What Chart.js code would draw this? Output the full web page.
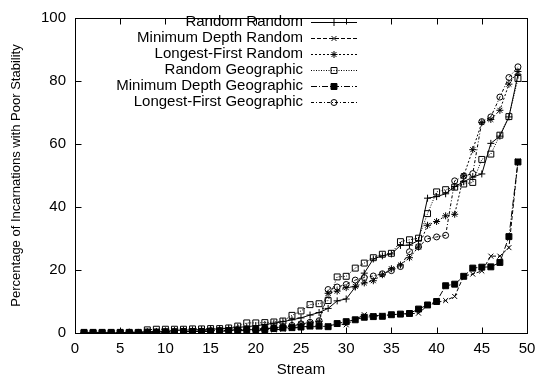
<!DOCTYPE html>
<html>
<head>
<meta charset="utf-8">
<script src="https://cdn.jsdelivr.net/npm/chart.js@4.4.1/dist/chart.umd.min.js"></script>
<style>
  html, body { margin: 0; padding: 0; background: #fff; }
</style>
</head>
<body>
<canvas id="myChart" width="544" height="381"></canvas>
<script>
// stream index on the x axis
var streams = [1,2,3,4,5,6,7,8,9,10,11,12,13,14,15,16,17,18,19,20,21,22,23,24,25,
  26,27,28,29,30,31,32,33,34,35,36,37,38,39,40,41,42,43,44,45,46,47,48,49];

var randomRandom = [0,0,0,0,0,0.3,0.2,0.4,0.5,0.6,0.8,0.9,1.0,1.1,1.2,1.3,1.5,1.8,2.0,2.3,
  2.7,3.1,3.6,4.2,4.8,5.7,6.5,7.8,10.2,10.8,14.6,19.0,23.5,24.5,25.1,27.8,27.9,29.4,
  42.8,43.3,44.2,46.5,48.0,49.5,50.5,60.2,62.5,68.6,82.0];
var minDepthRandom = [0,0,0,0,0,0,0,0.2,0.2,0.3,0.3,0.4,0.4,0.5,0.5,0.6,0.6,0.7,0.8,0.8,
  0.9,1.0,1.2,1.5,1.8,2.0,2.0,2.2,2.9,2.6,4.3,5.8,5.5,5.6,5.8,6.0,6.1,6.3,
  8.7,9.7,10.3,11.6,18.1,18.7,19.7,24.4,24.4,27.1,54.6];
var longestFirstRandom = [0,0,0,0,0,0,0,0.2,0.3,0.3,0.4,0.5,0.5,0.6,0.7,0.8,0.9,1.0,1.1,1.2,
  1.3,1.5,1.8,2.2,2.8,3.2,3.6,12.6,13.3,14.4,14.8,15.9,16.6,18.5,20.4,21.6,23.9,27.3,
  34.2,35.4,37.2,37.7,49.9,58.2,66.8,67.8,70.7,79.0,83.0];
var randomGeographic = [0,0,0,0,0,0,0,1.0,1.2,1.2,1.2,1.2,1.3,1.3,1.4,1.4,1.6,2.2,3.2,3.2,
  3.3,3.5,3.8,5.6,7.0,9.0,9.3,10.3,17.8,18.0,20.6,22.2,23.9,25.0,25.3,29.0,29.6,30.1,
  37.9,44.8,45.5,46.3,47.3,47.8,55.1,56.8,62.8,68.7,80.8];
var minDepthGeographic = [0.2,0.2,0.2,0.2,0.2,0.2,0.2,0.3,0.3,0.4,0.4,0.5,0.5,0.5,0.6,0.7,0.8,0.9,1.0,1.1,
  1.1,1.4,1.6,1.7,1.9,2.2,2.2,2.0,3.0,3.6,4.2,5.0,5.2,5.3,5.8,6.0,6.2,7.6,
  8.9,10.0,15.0,15.5,18.0,20.6,20.9,21.0,22.4,30.6,54.3];
var longestFirstGeographic = [0,0,0,0,0,0,0,0.2,0.3,0.3,0.4,0.5,0.5,0.6,0.7,0.8,0.9,1.0,1.2,1.3,
  1.4,1.6,2.0,2.4,2.9,3.4,3.9,13.8,14.6,15.4,16.8,17.6,18.1,18.8,19.8,21.1,25.8,27.4,
  29.9,30.5,31.0,48.3,49.8,50.6,67.1,68.6,74.9,81.1,84.5];

var xTicks = [0,5,10,15,20,25,30,35,40,45,50];
var yTicks = [0,20,40,60,80,100];

var FONT = '"Liberation Sans", Arial, Helvetica, sans-serif';
Chart.defaults.font.family = FONT;
Chart.defaults.font.size = 15;
Chart.defaults.color = '#000';

function pts(vals) {
  return streams.map(function (s, i) { return { x: s, y: vals[i] }; });
}

function series(label, vals, dash, style, radius, fill) {
  return {
    label: label,
    data: pts(vals),
    borderColor: '#000',
    borderWidth: 1,
    borderDash: dash,
    pointStyle: style,
    pointRadius: radius,
    pointBorderColor: '#000',
    pointBackgroundColor: fill,
    pointBorderWidth: 1,
    tension: 0,
    fill: false
  };
}

// gnuplot style key: text on the left, sample line + marker on the right
var gnuKey = {
  id: 'gnuKey',
  afterDraw: function (chart) {
    var ctx = chart.ctx;
    ctx.save();
    ctx.font = '15px ' + FONT;
    ctx.textAlign = 'right';
    ctx.textBaseline = 'middle';
    chart.data.datasets.forEach(function (ds, i) {
      var y = 22 + i * 16;
      ctx.fillStyle = '#000';
      ctx.fillText(ds.label, 303, y);
      ctx.beginPath();
      ctx.strokeStyle = '#000';
      ctx.lineWidth = 1;
      ctx.setLineDash(ds.borderDash);
      ctx.moveTo(311, Math.round(y) + 0.5);
      ctx.lineTo(357, Math.round(y) + 0.5);
      ctx.stroke();
      ctx.setLineDash([]);
      ctx.fillStyle = ds.pointBackgroundColor;
      Chart.helpers.drawPoint(ctx, { pointStyle: ds.pointStyle, radius: ds.pointRadius, borderWidth: 1, rotation: 0 }, 334, Math.round(y) + 0.5);
    });
    ctx.restore();
  }
};

// box border with inward tick marks on all four sides
var gnuFrame = {
  id: 'gnuFrame',
  beforeDatasetsDraw: function (chart) {
    var ctx = chart.ctx, a = chart.chartArea;
    var xs = chart.scales.x, ys = chart.scales.y;
    var L = Math.round(a.left) + 0.5, R = Math.round(a.right) + 0.5;
    var T = Math.round(a.top) + 0.5, B = Math.round(a.bottom) + 0.5;
    ctx.save();
    ctx.strokeStyle = '#000';
    ctx.lineWidth = 1;
    ctx.strokeRect(L, T, R - L, B - T);
    ctx.beginPath();
    xTicks.forEach(function (v) {
      var px = Math.round(xs.getPixelForValue(v)) + 0.5;
      ctx.moveTo(px, B); ctx.lineTo(px, B - 6);
      ctx.moveTo(px, T); ctx.lineTo(px, T + 6);
    });
    yTicks.forEach(function (v) {
      var py = Math.round(ys.getPixelForValue(v)) + 0.5;
      ctx.moveTo(L, py); ctx.lineTo(L + 6, py);
      ctx.moveTo(R, py); ctx.lineTo(R - 6, py);
    });
    ctx.stroke();
    ctx.restore();
  }
};

var ctx = document.getElementById('myChart').getContext('2d');
var myChart = new Chart(ctx, {
  type: 'line',
  data: {
    datasets: [
      series('Random Random', randomRandom, [], 'cross', 3.5, 'rgba(0,0,0,0)'),
      series('Minimum Depth Random', minDepthRandom, [4, 2], 'crossRot', 3.5, 'rgba(0,0,0,0)'),
      series('Longest-First Random', longestFirstRandom, [2, 2], 'star', 3.5, 'rgba(0,0,0,0)'),
      series('Random Geographic', randomGeographic, [1, 1.5], 'rect', 4.2, 'rgba(0,0,0,0)'),
      series('Minimum Depth Geographic', minDepthGeographic, [6, 2, 1, 2], 'rect', 4.2, '#000'),
      series('Longest-First Geographic', longestFirstGeographic, [3, 2, 1, 2], 'circle', 3, 'rgba(0,0,0,0)')
    ]
  },
  options: {
    responsive: false,
    animation: false,
    layout: { padding: { top: 14, right: 17, left: 0, bottom: 0 } },
    plugins: { legend: { display: false }, tooltip: { enabled: false } },
    scales: {
      x: {
        type: 'linear', min: 0, max: 50,
        afterFit: function (s) { s.height = 48; },
        grid: { display: false, drawTicks: false },
        border: { display: false },
        afterBuildTicks: function (s) { s.ticks = xTicks.map(function (v) { return { value: v }; }); },
        ticks: { color: '#000', padding: 7, maxRotation: 0, autoSkip: false },
        title: { display: true, text: 'Stream', color: '#000', padding: { top: 0, bottom: 2 } }
      },
      y: {
        type: 'linear', min: 0, max: 100,
        afterFit: function (s) { s.width = 75; },
        grid: { display: false, drawTicks: false },
        border: { display: false },
        afterBuildTicks: function (s) { s.ticks = yTicks.map(function (v) { return { value: v }; }); },
        ticks: { color: '#000', padding: 9 },
        title: { display: true, text: 'Percentage of Incarnations with Poor Stability', color: '#000', font: { size: 13 }, padding: { top: 9, bottom: 0 } }
      }
    }
  },
  plugins: [gnuFrame, gnuKey]
});
</script>
</body>
</html>
